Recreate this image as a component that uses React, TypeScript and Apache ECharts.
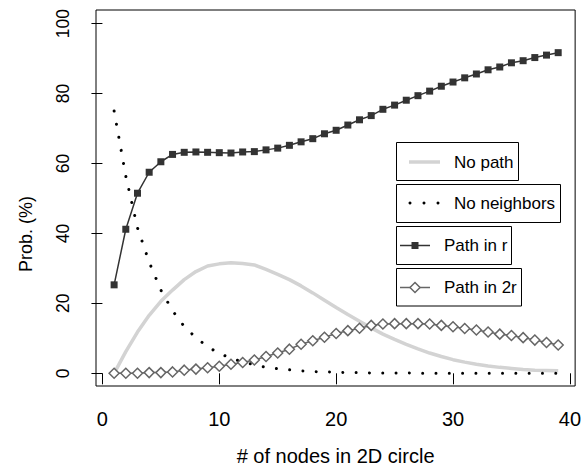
import React, { useEffect, useRef } from "react";
import * as echarts from "echarts";

const nodeCounts = [
  1, 2, 3, 4, 5, 6, 7, 8, 9, 10, 11, 12, 13, 14, 15, 16, 17, 18, 19, 20,
  21, 22, 23, 24, 25, 26, 27, 28, 29, 30, 31, 32, 33, 34, 35, 36, 37, 38, 39,
];
const noPath = [
  0, 6.2, 11.8, 16.6, 20.6, 23.8, 26.8, 29.1, 30.7, 31.3,
  31.6, 31.4, 31.0, 29.7, 28.3, 26.8, 25.0, 23.0, 20.9, 18.8,
  16.8, 14.9, 13.0, 11.2, 9.7, 8.3, 7.0, 5.8, 4.8, 3.9,
  3.2, 2.6, 2.1, 1.7, 1.4, 1.1, 0.9, 0.8, 0.7,
];
const noNeighbors = [
  75.0, 56.4, 41.6, 31.8, 23.8, 17.9, 13.4, 10.2, 7.6, 5.7,
  4.3, 3.3, 2.4, 1.7, 1.3, 1.0, 0.7, 0.5, 0.4, 0.3,
  0.2, 0.2, 0.1, 0.1, 0.1, 0.1, 0, 0, 0, 0,
  0, 0, 0, 0, 0, 0, 0, 0, 0,
];
const pathInR = [
  25.3, 41.2, 51.5, 57.5, 60.5, 62.6, 63.2, 63.3, 63.2, 63.1,
  63.0, 63.3, 63.4, 63.9, 64.4, 65.2, 66.2, 67.1, 68.5, 69.5,
  71.0, 72.5, 73.7, 75.5, 76.7, 78.1, 79.4, 80.7, 82.1, 83.3,
  84.5, 85.6, 86.8, 87.6, 88.8, 89.4, 90.3, 91.0, 91.7,
];
const pathIn2r = [
  0, 0, 0, 0.2, 0.2, 0.4, 0.9, 1.2, 1.6, 2.0,
  2.6, 3.1, 3.8, 4.8, 5.8, 6.9, 8.3, 9.3, 10.3, 11.4,
  12.2, 12.9, 13.7, 14.1, 14.2, 14.2, 14.2, 14.1, 13.7, 13.3,
  12.8, 12.4, 11.8, 11.2, 10.8, 10.2, 9.5, 8.8, 8.1,
];
const xTicks = [0, 10, 20, 30, 40];
const yTicks = [0, 20, 40, 60, 80, 100];
const seriesNames = ["No path", "No neighbors", "Path in r", "Path in 2r"];
const xTitle = "# of nodes in 2D circle";
const yTitle = "Prob. (%)";

const toPairs = (ys: number[]) => nodeCounts.map((x, i) => [x, ys[i]]);

const FONT = "'Liberation Sans', Arial, Helvetica, sans-serif";

export default function App() {
  const ref = useRef<HTMLDivElement>(null);

  useEffect(() => {
    if (!ref.current) return;
    const chart = echarts.init(ref.current, null, { renderer: "svg" });

    const legendText = (text: string, x: number, y: number) => ({
      type: "text",
      x,
      y,
      style: { text, fontSize: 17, fontFamily: FONT, fill: "#000", verticalAlign: "middle", align: "left" },
      z: 101,
    });
    const box = (x: number, y: number, w: number, h: number) => ({
      type: "rect",
      shape: { x, y, width: w, height: h },
      style: { fill: "#fff", stroke: "#000", lineWidth: 1 },
      z: 100,
    });

    chart.setOption({
      animation: false,
      textStyle: { fontFamily: FONT },
      grid: {
        left: 96,
        right: 6,
        top: 10,
        bottom: 89,
        show: true,
        borderColor: "#000",
        borderWidth: 1,
        backgroundColor: "transparent",
      },
      xAxis: {
        type: "value",
        min: -0.55,
        max: 40.45,
        axisLine: { show: false },
        axisTick: { show: true, length: 11, lineStyle: { color: "#000" }, customValues: xTicks },
        axisLabel: { customValues: xTicks, margin: 23, fontSize: 20, color: "#000", fontFamily: FONT },
        splitLine: { show: false },
        name: xTitle,
        nameLocation: "middle",
        nameGap: 60,
        nameTextStyle: { fontSize: 20, color: "#000", fontFamily: FONT },
      },
      yAxis: {
        type: "value",
        min: -3.63,
        max: 103.9,
        axisLine: { show: false },
        axisTick: { show: true, length: 11, lineStyle: { color: "#000" }, customValues: yTicks },
        axisLabel: { customValues: yTicks, margin: 24, fontSize: 17.5, color: "#000", rotate: 90, fontFamily: FONT },
        splitLine: { show: false },
        name: yTitle,
        nameLocation: "middle",
        nameGap: 61,
        nameTextStyle: { fontSize: 18, color: "#000", fontFamily: FONT, padding: [0, 72, 0, 0] },
      },
      series: [
        {
          name: seriesNames[0],
          type: "line",
          data: toPairs(noPath),
          symbol: "none",
          lineStyle: { color: "#d3d3d3", width: 3.5 },
          z: 2,
        },
        {
          name: seriesNames[1],
          type: "line",
          data: toPairs(noNeighbors),
          symbol: "none",
          lineStyle: { color: "#000", width: 3, type: [0.01, 13.3], cap: "round" },
          z: 3,
        },
        {
          name: seriesNames[2],
          type: "line",
          data: toPairs(pathInR),
          symbol: "rect",
          symbolSize: 7,
          itemStyle: { color: "#333" },
          lineStyle: { color: "#333", width: 1.5 },
          z: 4,
        },
        {
          name: seriesNames[3],
          type: "line",
          data: toPairs(pathIn2r),
          symbol: "diamond",
          symbolSize: 10,
          itemStyle: { color: "#fff", borderColor: "#666", borderWidth: 1.5 },
          lineStyle: { color: "#666", width: 1.5 },
          z: 5,
        },
      ],
      graphic: [
        box(396.5, 142.5, 122, 38),
        { type: "line", shape: { x1: 409, y1: 162, x2: 440, y2: 162 }, style: { stroke: "#d3d3d3", lineWidth: 3.5 }, z: 101 },
        legendText(seriesNames[0], 454, 162),

        box(396.5, 184.5, 164, 38),
        { type: "circle", shape: { cx: 410, cy: 203, r: 1.5 }, style: { fill: "#000" }, z: 101 },
        { type: "circle", shape: { cx: 424, cy: 203, r: 1.5 }, style: { fill: "#000" }, z: 101 },
        { type: "circle", shape: { cx: 438, cy: 203, r: 1.5 }, style: { fill: "#000" }, z: 101 },
        legendText(seriesNames[1], 454, 203),

        box(396.5, 226.5, 115, 38),
        { type: "line", shape: { x1: 400, y1: 245.5, x2: 430, y2: 245.5 }, style: { stroke: "#333", lineWidth: 1.5 }, z: 101 },
        { type: "rect", shape: { x: 411.5, y: 242, width: 7, height: 7 }, style: { fill: "#333" }, z: 102 },
        legendText(seriesNames[2], 444, 245.5),

        box(396.5, 268.5, 125, 37.5),
        { type: "line", shape: { x1: 400, y1: 287.5, x2: 430, y2: 287.5 }, style: { stroke: "#666", lineWidth: 1.5 }, z: 101 },
        {
          type: "polygon",
          shape: { points: [[415, 282.5], [420, 287.5], [415, 292.5], [410, 287.5]] },
          style: { fill: "#fff", stroke: "#666", lineWidth: 1.5 },
          z: 102,
        },
        legendText(seriesNames[3], 444, 287.5),
      ],
    });

    return () => chart.dispose();
  }, []);

  return (
    <div
      ref={ref}
      style={{ position: "absolute", left: 0, top: 0, width: 584, height: 475, background: "#fff" }}
    />
  );
}
